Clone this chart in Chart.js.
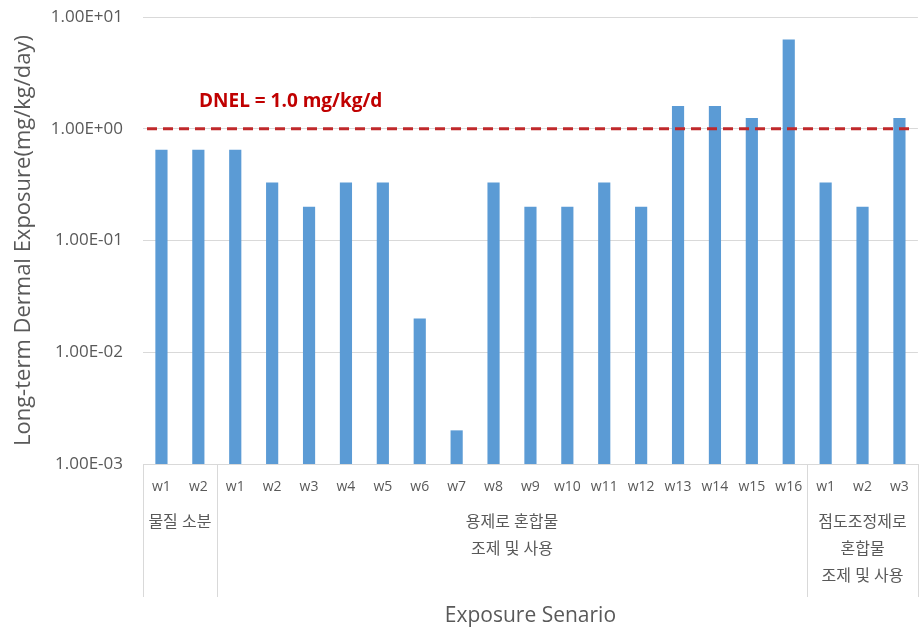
<!DOCTYPE html>
<html>
<head>
<meta charset="utf-8">
<script src="https://cdn.jsdelivr.net/npm/chart.js@4"></script>
<style>
html,body{margin:0;padding:0;background:#fff;}
#wrap{width:924px;height:631px;}
</style>
</head>
<body>
<div id="wrap"><canvas id="c" width="924" height="631"></canvas></div>
<script>
const categories = ['w1','w2','w1','w2','w3','w4','w5','w6','w7','w8','w9','w10','w11','w12','w13','w14','w15','w16','w1','w2','w3'];
const exposure = [0.65,0.65,0.65,0.33,0.2,0.33,0.33,0.02,0.002,0.33,0.2,0.2,0.33,0.2,1.6,1.6,1.25,6.3,0.33,0.2,1.25];
const groupLabels = [['물질 소분'], ['용제로 혼합물','조제 및 사용'], ['점도조정제로','혼합물','조제 및 사용']];
const groupSizes = [2, 16, 3];
const yTickValues = [0.001, 0.01, 0.1, 1, 10];
const yTickLabels = ['1.00E-03','1.00E-02','1.00E-01','1.00E+00','1.00E+01'];
const dnelValue = 1.0;
const dnelLabel = 'DNEL = 1.0 mg/kg/d';

const FONT = "'Open Sans', 'Noto Sans CJK KR', sans-serif";
const GRAY = '#595959';

const groupPlugin = {
  id: 'groups',
  afterDraw(chart) {
    const ctx = chart.ctx;
    const x = chart.scales.x;
    const area = chart.chartArea;
    const step = x.getPixelForValue(1) - x.getPixelForValue(0);
    ctx.save();
    ctx.strokeStyle = '#d9d9d9';
    ctx.lineWidth = 1;
    let start = 0;
    const bounds = [];
    groupSizes.forEach((n, gi) => {
      const left = x.getPixelForValue(start) - step / 2;
      const right = x.getPixelForValue(start + n - 1) + step / 2;
      bounds.push(left);
      if (gi === groupSizes.length - 1) bounds.push(right);
      ctx.fillStyle = GRAY;
      ctx.font = '16px ' + FONT;
      ctx.textAlign = 'center';
      ctx.textBaseline = 'middle';
      groupLabels[gi].forEach((line, li) => {
        ctx.fillText(line, (left + right) / 2, area.bottom + 58 + li * 27);
      });
      start += n;
    });
    bounds.forEach(b => {
      const bx = Math.round(b) + 0.5;
      ctx.beginPath();
      ctx.moveTo(bx, area.bottom);
      ctx.lineTo(bx, area.bottom + 133);
      ctx.stroke();
    });
    ctx.restore();
  }
};

const dnelPlugin = {
  id: 'dnel',
  afterDatasetsDraw(chart) {
    const ctx = chart.ctx;
    const y = chart.scales.y;
    const area = chart.chartArea;
    const py = y.getPixelForValue(dnelValue);
    ctx.save();
    ctx.strokeStyle = '#C0292B';
    ctx.lineWidth = 3;
    ctx.setLineDash([10, 6]);
    ctx.beginPath();
    ctx.moveTo(area.left + 4, py);
    ctx.lineTo(area.right - 3, py);
    ctx.stroke();
    ctx.setLineDash([]);
    ctx.fillStyle = '#C00000';
    ctx.font = 'bold 19px ' + FONT;
    ctx.textAlign = 'left';
    ctx.textBaseline = 'middle';
    ctx.fillText(dnelLabel, area.left + 56, py - 27);
    ctx.restore();
  }
};

new Chart(document.getElementById('c'), {
  type: 'bar',
  data: {
    labels: categories,
    datasets: [{
      data: exposure,
      backgroundColor: '#5B9BD5',
      borderWidth: 0,
      barPercentage: 0.33,
      categoryPercentage: 1.0
    }]
  },
  options: {
    responsive: false,
    animation: false,
    layout: { padding: { top: 17, right: 6, left: 0, bottom: 0 } },
    plugins: { legend: { display: false }, tooltip: { enabled: false } },
    scales: {
      x: {
        grid: { display: false, drawTicks: false },
        border: { display: true, color: '#d9d9d9' },
        ticks: { color: GRAY, font: { size: 14, family: FONT }, padding: 15, maxRotation: 0, autoSkip: false },
        title: { display: true, text: 'Exposure Senario', color: GRAY, font: { size: 21, family: FONT }, padding: { top: 4, bottom: 2 } },
        afterFit(s) { s.height = 167; }
      },
      y: {
        type: 'logarithmic',
        min: 0.001,
        max: 10,
        afterBuildTicks(s) { s.ticks = yTickValues.map(v => ({ value: v })); },
        grid: { color: '#d9d9d9', drawTicks: true, tickLength: 16, tickColor: 'rgba(0,0,0,0)' },
        border: { display: false },
        ticks: {
          color: GRAY, font: { size: 17, family: FONT }, padding: 4,
          callback(v) { const i = yTickValues.findIndex(t => Math.abs(t - v) / t < 1e-6); return i >= 0 ? yTickLabels[i] : ''; }
        },
        title: { display: true, text: 'Long-term Dermal Exposure(mg/kg/day)', color: GRAY, font: { size: 22, family: FONT }, padding: { top: 11, bottom: 4 } },
        afterFit(s) { s.width = 143; }
      }
    }
  },
  plugins: [groupPlugin, dnelPlugin]
});
</script>
</body>
</html>
